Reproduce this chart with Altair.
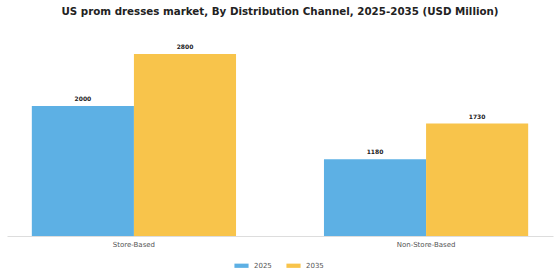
import altair as alt
import pandas as pd

categories = ["Store-Based", "Non-Store-Based"]
years = ["2025", "2035"]
values_2025 = [2000, 1180]
values_2035 = [2800, 1730]

rows = []
for c, v in zip(categories, values_2025):
    rows.append({"channel": c, "year": "2025", "value": v})
for c, v in zip(categories, values_2035):
    rows.append({"channel": c, "year": "2035", "value": v})
df = pd.DataFrame(rows)

colors = ["#5DB0E4", "#F8C44B"]

x = alt.X("channel:N", sort=categories, title=None,
          scale=alt.Scale(paddingInner=0.301, paddingOuter=0.085),
          axis=alt.Axis(labelAngle=0, labelFontSize=7, labelColor="#555555", labelFont="DejaVu Sans",
                        domainColor="#dddddd", ticks=False, labelPadding=4))
xo = alt.XOffset("year:N", sort=years, scale=alt.Scale(paddingInner=0, paddingOuter=0))
y = alt.Y("value:Q", scale=alt.Scale(domain=[0, 3000], nice=False), axis=None)

bars = alt.Chart(df).mark_bar().encode(
    x=x, xOffset=xo, y=y,
    color=alt.Color("year:N", sort=years, scale=alt.Scale(domain=years, range=colors),
                    legend=alt.Legend(title=None, orient="none", direction="horizontal",
                                      legendX=227, legendY=217,
                                      symbolType="M-1,-0.3L1,-0.3L1,0.3L-1,0.3Z",
                                      symbolSize=200, symbolStrokeWidth=0,
                                      labelFontSize=7, labelFont="DejaVu Sans", labelColor="#555555",
                                      labelOffset=5, columnPadding=14)),
)

text = alt.Chart(df).mark_text(dy=-7, fontSize=6, fontWeight="bold", font="DejaVu Sans", color="#222222").encode(
    x=x, xOffset=xo, y=y, text=alt.Text("value:Q", format="d"),
)

chart = (bars + text).properties(
    width=546, height=195,
    title=alt.Title("US prom dresses market, By Distribution Channel, 2025-2035 (USD Million)",
                    fontSize=10.3, fontWeight="bold", font="DejaVu Sans", color="#222222",
                    anchor="middle", offset=24),
    autosize=alt.AutoSizeParams(type="none"),
    padding={"left": 7, "top": 41, "right": 7, "bottom": 44},
).configure_view(stroke=None)

chart.save("out.html", embed_options={"renderer": "svg", "actions": False})
